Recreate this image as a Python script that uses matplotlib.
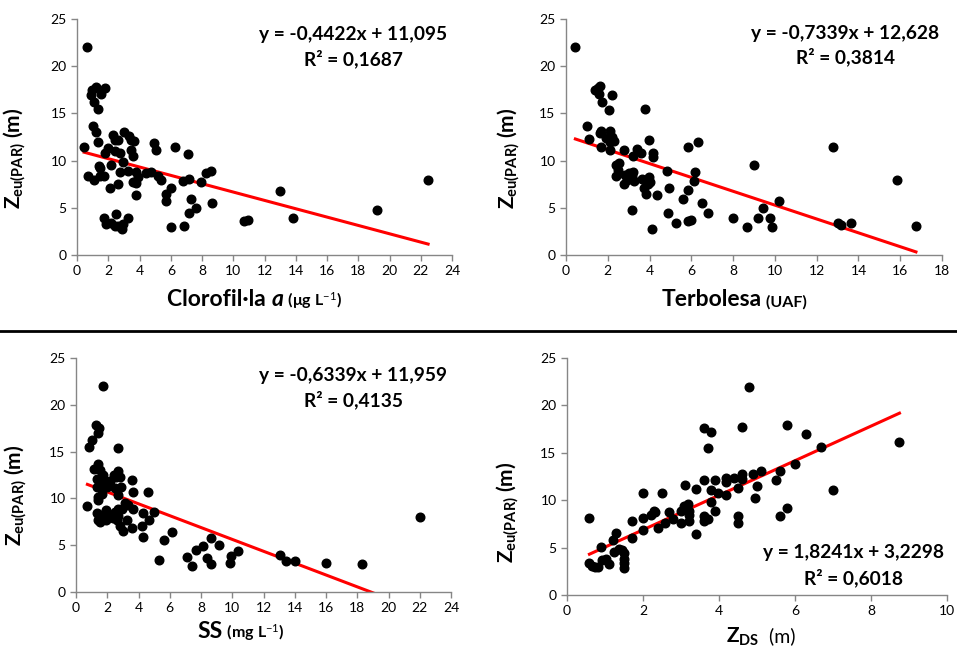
import matplotlib
matplotlib.use("Agg")
import matplotlib.pyplot as plt
import numpy as np
from matplotlib.offsetbox import TextArea, HPacker, AnchoredOffsetbox

plt.rcParams['font.family'] = ['Lato', 'DejaVu Sans']
plt.rcParams['mathtext.fontset'] = 'custom'
plt.rcParams['mathtext.rm'] = 'Lato'
plt.rcParams['mathtext.bf'] = 'Lato:bold'
plt.rcParams['mathtext.it'] = 'Lato:italic'

# Clorofil-la a vs Zeu
chl_x = [0.66, 0.45, 0.92, 0.98, 1.24, 1.56, 1.77, 1.09, 1.37, 1.03, 1.24, 1.37, 1.41, 1.45,
         0.70, 1.09, 1.45, 1.73, 1.77, 1.99, 2.16, 2.09, 2.31, 2.41, 2.63, 2.41, 2.74, 2.74,
         2.63, 2.95, 2.99, 3.33, 3.48, 3.63, 3.48, 3.59, 3.27, 3.55, 3.76, 3.80, 3.91, 3.80,
         1.73, 1.88, 2.16, 2.41, 2.50, 2.63, 2.88, 2.95, 3.23, 4.44, 4.76, 4.91, 5.02, 5.19,
         5.36, 6.26, 5.68, 5.66, 5.98, 5.98, 6.79, 6.86, 7.07, 7.18, 7.29, 7.16, 7.61, 7.93,
         8.25, 8.55, 8.61, 10.7, 10.96, 13.0, 13.8, 19.2, 22.46]
chl_y = [22.0, 11.5, 17.0, 17.5, 17.8, 17.1, 17.7, 16.2, 15.5, 13.7, 13.0, 12.0, 9.4, 9.2,
         8.4, 7.9, 8.4, 8.4, 10.8, 11.3, 9.5, 7.1, 12.7, 12.2, 12.2, 11.0, 10.8, 8.8,
         7.5, 9.9, 13.0, 12.6, 12.2, 12.1, 11.1, 10.5, 8.9, 7.7, 7.6, 8.8, 8.3, 6.4,
         3.9, 3.3, 3.4, 3.1, 4.4, 3.1, 2.8, 3.3, 3.9, 8.7, 8.8, 11.9, 11.1, 8.4,
         7.9, 11.4, 6.5, 5.7, 7.1, 3.0, 7.8, 3.1, 10.7, 8.1, 5.9, 4.5, 5.0, 7.7,
         8.7, 8.9, 5.5, 3.6, 3.7, 6.8, 3.9, 4.8, 8.0]

# Terbolesa vs Zeu
turb_x = [0.45, 1.0, 1.09, 1.39, 1.52, 1.64, 1.60, 1.72, 2.19, 2.07, 1.63, 1.68, 1.68, 1.91,
          2.12, 2.12, 2.20, 2.31, 2.12, 2.39, 2.39, 2.55, 2.47, 2.79, 2.79, 2.84, 2.92, 3.03,
          3.14, 3.19, 3.14, 3.19, 3.40, 3.59, 3.27, 3.64, 3.75, 3.83, 3.78, 3.96, 3.99, 4.04,
          3.94, 4.15, 4.15, 4.12, 4.34, 4.83, 4.91, 4.87, 5.27, 5.62, 5.82, 5.82, 5.82, 5.98,
          6.17, 6.14, 6.33, 6.51, 6.81, 8.01, 8.66, 9.02, 9.18, 9.45, 9.77, 9.86, 10.18, 12.77,
          13.0, 13.16, 13.64, 15.85, 16.75]
turb_y = [22.0, 13.7, 12.3, 17.5, 17.7, 17.9, 17.1, 16.2, 17.0, 15.4, 12.9, 13.1, 11.4, 12.4,
          13.1, 11.1, 12.5, 12.1, 12.0, 9.5, 8.4, 9.8, 9.0, 11.1, 7.5, 8.5, 7.9, 8.7,
          8.4, 8.8, 4.8, 10.5, 11.2, 10.8, 7.8, 8.1, 7.1, 6.5, 15.5, 12.2, 8.3, 7.7,
          7.5, 10.4, 10.8, 2.8, 6.4, 8.9, 7.1, 4.5, 3.4, 5.9, 11.4, 6.9, 3.6, 3.7,
          8.8, 7.8, 12.0, 5.5, 4.5, 3.9, 3.0, 9.5, 3.9, 5.0, 3.9, 3.0, 5.7, 11.5,
          3.4, 3.2, 3.4, 8.0, 3.1]

# SS vs Zeu
ss_x = [1.75, 0.73, 0.85, 1.0, 1.28, 1.49, 1.39, 1.39, 1.15, 1.54, 1.32, 1.32, 1.39, 1.39,
        1.75, 1.75, 1.86, 1.64, 1.96, 2.18, 2.18, 1.92, 1.32, 1.39, 1.54, 1.54, 1.75, 1.92,
        1.64, 2.18, 2.39, 2.50, 2.60, 2.71, 2.46, 2.71, 2.82, 2.56, 2.50, 2.86, 2.71, 2.67,
        2.67, 2.93, 2.82, 3.03, 3.14, 3.24, 3.35, 3.57, 3.67, 3.63, 3.61, 4.21, 4.27, 4.31,
        4.63, 4.68, 5.02, 5.34, 5.64, 6.13, 7.09, 7.45, 7.69, 8.11, 8.37, 8.65, 8.65, 9.18,
        9.86, 9.93, 10.36, 13.07, 13.43, 14.03, 16.0, 18.3, 22.04]
ss_y = [22.0, 9.2, 15.5, 16.2, 17.8, 17.5, 17.0, 13.7, 13.1, 13.0, 12.1, 11.2, 10.2, 9.8,
        12.5, 11.4, 11.9, 10.5, 11.2, 11.4, 11.9, 8.8, 8.4, 7.7, 7.5, 8.2, 8.1, 7.7,
        7.9, 8.2, 7.9, 8.6, 7.7, 8.1, 12.5, 12.9, 12.3, 12.3, 11.1, 11.2, 10.4, 15.4,
        8.9, 8.9, 7.0, 6.5, 9.5, 7.7, 9.3, 12.0, 10.7, 8.9, 6.8, 7.0, 8.4, 5.9,
        10.7, 7.7, 8.6, 3.4, 5.6, 6.4, 3.7, 2.8, 4.5, 4.9, 3.6, 3.0, 5.8, 5.0,
        3.1, 3.9, 4.4, 4.0, 3.3, 3.3, 3.1, 3.0, 8.0]

# ZDS vs Zeu
zds_x = [4.79, 0.59, 0.59, 0.67, 0.74, 0.81, 0.89, 0.91, 1.02, 1.11, 1.20, 1.24, 1.29, 1.37,
         1.44, 1.50, 1.50, 1.50, 1.50, 1.70, 1.70, 1.99, 1.99, 2.01, 2.21, 2.29, 2.31, 2.40,
         2.50, 2.59, 2.69, 2.79, 3.00, 3.00, 3.08, 3.10, 3.19, 3.21, 3.21, 3.21, 3.39, 3.39,
         3.60, 3.61, 3.61, 3.61, 3.70, 3.70, 3.80, 3.80, 3.80, 3.90, 3.90, 3.98, 4.19, 4.19,
         4.19, 4.40, 4.50, 4.50, 4.50, 4.60, 4.60, 4.60, 4.89, 4.94, 5.00, 5.10, 5.49, 5.60,
         5.60, 5.80, 5.80, 6.01, 6.30, 6.69, 7.00, 8.75]
zds_y = [22.0, 8.1, 3.4, 3.1, 3.0, 3.0, 5.1, 3.7, 3.8, 3.3, 5.8, 4.5, 6.5, 4.9,
         4.7, 4.4, 3.8, 3.4, 2.9, 7.8, 6.0, 10.8, 8.1, 6.9, 8.4, 8.9, 8.8, 7.1,
         10.8, 7.6, 8.8, 8.0, 7.6, 8.9, 9.4, 11.6, 9.6, 8.9, 8.4, 7.8, 6.4, 11.2,
         17.6, 12.1, 8.3, 7.8, 15.5, 8.0, 17.2, 11.1, 9.8, 12.1, 8.9, 10.8, 12.4, 11.9,
         10.6, 12.3, 11.3, 8.3, 7.6, 17.7, 12.8, 12.2, 12.8, 10.2, 11.5, 13.1, 12.1, 13.1,
         8.3, 17.9, 9.2, 13.8, 17.0, 15.6, 11.1, 16.2]

slopes = [-0.4422, -0.7339, -0.6339, 1.8241]
intercepts = [11.095, 12.628, 11.959, 3.2298]
eq_text = ["y = -0,4422x + 11,095", "y = -0,7339x + 12,628",
           "y = -0,6339x + 11,959", "y = 1,8241x + 3,2298"]
r2_text = ["R² = 0,1687", "R² = 0,3814", "R² = 0,4135", "R² = 0,6018"]

xs = [chl_x, turb_x, ss_x, zds_x]
ys = [chl_y, turb_y, ss_y, zds_y]
xmax = [24, 18, 24, 10]

fig = plt.figure(figsize=(9.57, 6.49), dpi=100)
rects = [[0.0805, 0.607, 0.392, 0.3636],
         [0.5914, 0.607, 0.393, 0.3636],
         [0.0794, 0.0878, 0.392, 0.3606],
         [0.5925, 0.0832, 0.397, 0.365]]
eq_pos = [(0.736, 0.936, 0.83), (0.742, 0.94, 0.84), (0.739, 0.927, 0.82), (0.755, 0.18, 0.074)]
ylab_pos = [(-0.131, 0.41), (-0.117, 0.41), (-0.125, 0.415), (-0.121, 0.35)]

gray = '#868686'
axes = []
for i in range(4):
    ax = fig.add_axes(rects[i])
    axes.append(ax)
    x = np.array(xs[i])
    y = np.array(ys[i])
    ax.plot(x, y, 'o', color='black', markersize=6.2, zorder=3)
    xl = np.array([x.min(), x.max()])
    ax.plot(xl, slopes[i] * xl + intercepts[i], color='#ff0000', lw=2.2, zorder=2)
    ax.set_xlim(0, xmax[i])
    ax.set_ylim(0, 25)
    ax.set_xticks(np.arange(0, xmax[i] + 1, 2))
    ax.set_yticks([0, 5, 10, 15, 20, 25])
    for s in ['top', 'right']:
        ax.spines[s].set_visible(False)
    for s in ['left', 'bottom']:
        ax.spines[s].set_color(gray)
        ax.spines[s].set_linewidth(1)
    ax.tick_params(colors=gray, labelcolor='black', labelsize=10, length=4, width=1)
    ax.set_ylabel(r"$\mathbf{Z_{eu(PAR)}}$ (m)", fontsize=15, fontweight='bold')
    ax.yaxis.set_label_coords(*ylab_pos[i])
    ex, ey1, ey2 = eq_pos[i]
    ax.text(ex, ey1, eq_text[i], transform=ax.transAxes, ha='center', va='center',
            fontsize=13.8, fontweight='bold')
    ax.text(ex, ey2, r2_text[i], transform=ax.transAxes, ha='center', va='center',
            fontsize=13.8, fontweight='bold')


def xlabel(ax, parts, pos):
    boxes = [TextArea(t, textprops=p) for t, p in parts]
    pack = HPacker(children=boxes, align='baseline', pad=0, sep=0)
    box = AnchoredOffsetbox(loc='center', child=pack, pad=0, borderpad=0, frameon=False,
                            bbox_to_anchor=pos, bbox_transform=ax.transAxes)
    ax.add_artist(box)


big = dict(fontsize=16.5, fontweight='bold')
small = dict(fontsize=11.5, fontweight='bold')
xlabel(axes[0], [("Clorofil·la ", big), ("a", dict(fontsize=16.5, fontweight='bold', style='italic')),
                 (" (μg L$^{-1}$)", small)], (0.473, -0.19))
xlabel(axes[1], [("Terbolesa", big), (" (UAF)", small)], (0.448, -0.19))
xlabel(axes[2], [("SS", big), (" (mg L$^{-1}$)", small)], (0.44, -0.17))
xlabel(axes[3], [(r"$\mathbf{Z_{DS}}$", dict(fontsize=15)), ("  (m)", dict(fontsize=14))], (0.51, -0.175))

fig.add_artist(plt.Line2D([0, 1], [0.49, 0.49], color='black', lw=2, transform=fig.transFigure))

fig.savefig('out.png', dpi=100)
